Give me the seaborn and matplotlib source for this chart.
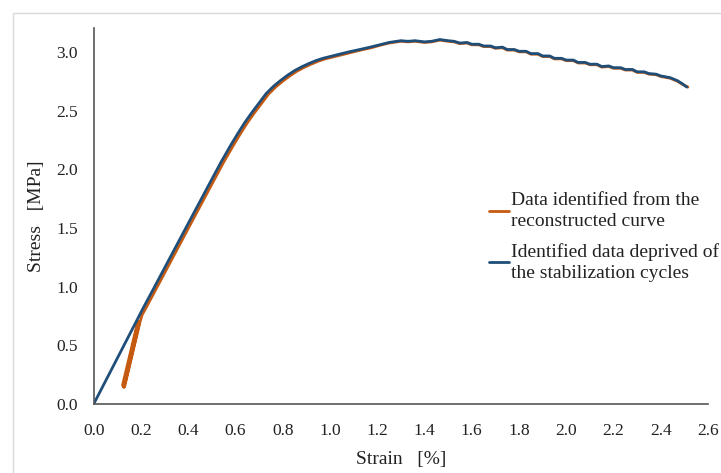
import matplotlib
matplotlib.use("Agg")
import matplotlib.pyplot as plt
import seaborn as sns
from matplotlib.patches import Rectangle

# --- data (strain in %, stress in MPa) ---
blue_strain = [0.0, 0.10, 0.209, 0.258, 0.378, 0.50, 0.54, 0.58, 0.61, 0.64, 0.67,
               0.70, 0.73, 0.76, 0.79, 0.82, 0.85, 0.88, 0.91, 0.94, 0.97, 1.00, 1.04,
               1.08, 1.126, 1.17, 1.21, 1.25, 1.30, 1.33, 1.36, 1.40, 1.43, 1.465, 1.50,
               1.525, 1.55, 1.58, 1.60, 1.63, 1.65, 1.68, 1.70, 1.73, 1.75, 1.78, 1.80,
               1.83, 1.85, 1.88, 1.90, 1.93, 1.95, 1.98, 2.00, 2.03, 2.05, 2.08, 2.10,
               2.13, 2.15, 2.18, 2.20, 2.23, 2.25, 2.28, 2.30, 2.33, 2.35, 2.38, 2.40,
               2.44, 2.47, 2.49, 2.51]
blue_stress = [0.0, 0.39, 0.816, 1.0, 1.455, 1.915, 2.065, 2.205, 2.305, 2.40, 2.485,
               2.565, 2.645, 2.705, 2.755, 2.80, 2.84, 2.872, 2.90, 2.925, 2.945, 2.96, 2.98,
               3.0, 3.02, 3.04, 3.06, 3.08, 3.095, 3.09, 3.095, 3.085, 3.09, 3.105, 3.095,
               3.09, 3.075, 3.08, 3.065, 3.065, 3.05, 3.05, 3.035, 3.04, 3.02, 3.02, 3.005,
               3.005, 2.985, 2.985, 2.965, 2.965, 2.945, 2.945, 2.93, 2.93, 2.91, 2.91, 2.895,
               2.895, 2.875, 2.88, 2.865, 2.865, 2.85, 2.85, 2.83, 2.83, 2.815, 2.81, 2.795,
               2.78, 2.755, 2.73, 2.70]

orange_strain = [0.125, 0.190, 0.185, 0.122, 0.128, 0.193, 0.188, 0.127, 0.131, 0.196,
                 0.205, 0.219, 0.268, 0.388, 0.51, 0.55, 0.59, 0.62, 0.65, 0.68,
                 0.71, 0.74, 0.77, 0.80, 0.83, 0.86, 0.89, 0.92, 0.95, 0.98, 1.01, 1.05,
                 1.09, 1.13, 1.175, 1.21, 1.25, 1.30, 1.33, 1.36, 1.40, 1.43, 1.465, 1.50,
                 1.525, 1.55, 1.58, 1.60, 1.63, 1.65, 1.68, 1.70, 1.73, 1.75, 1.78, 1.80,
                 1.83, 1.85, 1.88, 1.90, 1.93, 1.95, 1.98, 2.00, 2.03, 2.05, 2.08, 2.10,
                 2.13, 2.15, 2.18, 2.20, 2.23, 2.25, 2.28, 2.30, 2.33, 2.35, 2.38, 2.40,
                 2.44, 2.47, 2.49, 2.515]
orange_stress = [0.15, 0.70, 0.69, 0.16, 0.14, 0.69, 0.70, 0.15, 0.15, 0.70,
                 0.76, 0.81, 0.995, 1.45, 1.91, 2.06, 2.20, 2.30, 2.395, 2.48,
                 2.56, 2.64, 2.70, 2.75, 2.795, 2.835, 2.867, 2.895, 2.92, 2.94, 2.955, 2.975,
                 2.995, 3.015, 3.035, 3.055, 3.075, 3.09, 3.085, 3.09, 3.08, 3.085, 3.10, 3.09,
                 3.085, 3.07, 3.075, 3.06, 3.06, 3.045, 3.045, 3.03, 3.035, 3.015, 3.015, 3.00,
                 3.0, 2.98, 2.98, 2.96, 2.96, 2.94, 2.94, 2.925, 2.925, 2.905, 2.905, 2.89,
                 2.89, 2.87, 2.875, 2.86, 2.86, 2.845, 2.845, 2.825, 2.825, 2.81, 2.805, 2.79,
                 2.775, 2.75, 2.725, 2.70]

x_ticks = [0.0, 0.2, 0.4, 0.6, 0.8, 1.0, 1.2, 1.4, 1.6, 1.8, 2.0, 2.2, 2.4, 2.6]
y_ticks = [0.0, 0.5, 1.0, 1.5, 2.0, 2.5, 3.0]

orange = "#C55A11"
blue = "#1F4E79"

sns.set_theme(style="white")
plt.rcParams["font.family"] = ["Liberation Serif", "DejaVu Serif"]

fig = plt.figure(figsize=(7.21, 4.73), dpi=100)
ax = fig.add_axes([0.130, 0.146, 0.852, 0.794])

sns.lineplot(x=orange_strain, y=orange_stress, sort=False, estimator=None,
             color=orange, lw=2.0, ax=ax, label="Data identified from the\nreconstructed curve")
sns.lineplot(x=blue_strain, y=blue_stress, sort=False, estimator=None,
             color=blue, lw=2.0, ax=ax, label="Identified data deprived of\nthe stabilization cycles")

ax.set_xlim(0, 2.6)
ax.set_ylim(0, 3.2)
ax.set_xticks(x_ticks)
ax.set_xticklabels([f"{t:.1f}" for t in x_ticks])
ax.set_yticks(y_ticks)
ax.set_yticklabels([f"{t:.1f}" for t in y_ticks])
ax.tick_params(axis="both", direction="out", length=4.5, width=1, color="#555555",
               labelsize=12.5, labelcolor="#222222", pad=7)
ax.tick_params(axis="x", pad=9)

for side in ["top", "right"]:
    ax.spines[side].set_visible(False)
for side in ["left", "bottom"]:
    ax.spines[side].set_color("#555555")
    ax.spines[side].set_linewidth(1.2)

ax.set_xlabel("Strain   [%]", fontsize=14, color="#222222", labelpad=9)
ax.set_ylabel("Stress   [MPa]", fontsize=14, color="#222222", labelpad=8)

leg = ax.legend(loc="upper left", bbox_to_anchor=(0.668, 0.61), bbox_transform=fig.transFigure,
                frameon=False, fontsize=14, handlelength=1.0, handletextpad=0.1,
                labelspacing=0.65, borderaxespad=0)
for t in leg.get_texts():
    t.set_color("#222222")
    t.set_linespacing(1.3)

# light grey frame around the figure (only top/left visible in the reference)
fig.patches.append(Rectangle((13 / 721, -0.2), 1.2, 1.2 - 13 / 473, transform=fig.transFigure,
                             fill=False, edgecolor="#D9D9D9", lw=1.0))

fig.savefig("out.png", dpi=100)
